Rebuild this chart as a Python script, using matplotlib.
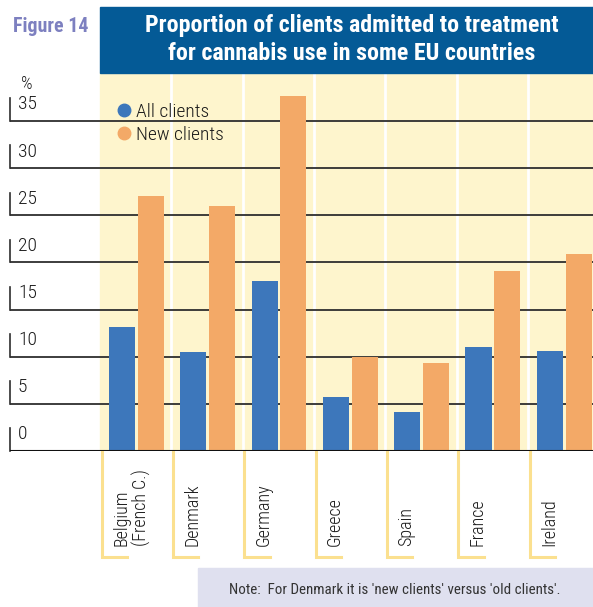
import matplotlib.pyplot as plt
from matplotlib.patches import Rectangle
from matplotlib.lines import Line2D
import numpy as np

plt.rcParams['font.family'] = ['Roboto Condensed', 'DejaVu Sans']

countries = ['Belgium\n(French C.)', 'Denmark', 'Germany', 'Greece', 'Spain', 'France', 'Ireland']
all_clients = [13.1, 10.5, 18.0, 5.7, 4.1, 11.0, 10.6]
new_clients = [27.0, 26.0, 37.6, 10.0, 9.3, 19.1, 20.9]
yticks = [0, 5, 10, 15, 20, 25, 30, 35]

blue = '#3d77bb'
orange = '#f3a967'
yellow = '#fef5cd'
bracket = '#fbe08f'

W, H = 593, 607
fig = plt.figure(figsize=(W / 100, H / 100), dpi=100)

# axes spans pixel x 10..593, y 72..451 ; one group = 71.3 px
gw = 71.3
ax = fig.add_axes([10 / W, (H - 451) / H, 583 / W, 379 / H])
ax.set_xlim(-90 / gw, 493 / gw)
ax.set_ylim(0, 379 / 9.43)
ax.axis('off')

x = np.arange(len(countries))
ax.axvspan(0, 493 / gw, color=yellow, zorder=0)
for i in x[1:]:
    ax.axvline(i, color='white', lw=2, zorder=1)

for v in yticks:
    ax.axhline(v, color='#2e2e2e', lw=1.3, zorder=2)
    ax.plot([-90 / gw, -90 / gw], [v, v + 2.4], color='#2e2e2e', lw=1.2, zorder=2,
            clip_on=False)
    ax.text(-82 / gw, v + 0.8, str(v), fontsize=14, fontweight=300, ha='left',
            va='bottom', color='#1a1a1a')
ax.text(-73 / gw, 38.9, '%', fontsize=13, fontweight=300, ha='center', va='center',
        color='#1a1a1a')

bw = 0.365
ax.bar(x + 0.126, all_clients, width=bw, align='edge', color=blue, zorder=3)
ax.bar(x + 0.53, new_clients, width=bw, align='edge', color=orange, zorder=3)
ax.axhline(0, color='#111111', lw=1.5, zorder=4)

# category labels with brackets
foot = -106 / 9.43
for i, name in zip(x, countries):
    ax.plot([i + 0.025, i + 0.025, i + 27 / gw], [0, foot, foot], color=bracket,
            lw=2.2, clip_on=False, zorder=1, solid_joinstyle='miter')
    ax.text(i + 12 / gw, -95 / 9.43, name, rotation=90, fontsize=13, fontweight=300,
            ha='left', va='bottom', multialignment='left', color='#1a1a1a',
            linespacing=1.1)

handles = [Line2D([], [], ls='', marker='o', ms=9, color=blue),
           Line2D([], [], ls='', marker='o', ms=9, color=orange)]
leg = fig.legend(handles, ['All clients', 'New clients'], loc='upper left',
                 bbox_to_anchor=(118 / W, 1 - 103 / H), frameon=False,
                 prop={'size': 14, 'weight': 300},
                 handlelength=0.6, handletextpad=0.35, labelspacing=0.25,
                 borderpad=0, borderaxespad=0)
for t in leg.get_texts():
    t.set_color('#1a1a1a')

# title box
fig.patches.append(Rectangle((100 / W, 1 - 73 / H), 493 / W, 66 / H,
                             transform=fig.transFigure, color='#045a96', zorder=0))
fig.text(352 / W, 1 - 39.5 / H,
         'Proportion of clients admitted to treatment\nfor cannabis use in some EU countries',
         ha='center', va='center', fontsize=17.3, fontweight='bold', color='white',
         linespacing=1.3)
fig.text(13 / W, 1 - 26 / H, 'Figure 14', ha='left', va='center', fontsize=14.3,
         fontweight='bold', color='#7d80c0')

# note box
fig.patches.append(Rectangle((198 / W, 0), 395 / W, 39 / H,
                             transform=fig.transFigure, color='#dfe0ef', zorder=0))
fig.text(395 / W, 1 - 590 / H,
         "Note:  For Denmark it is 'new clients' versus 'old clients'.",
         ha='center', va='center', fontsize=10.8, color='#333333')

fig.savefig('out.png', dpi=100)
